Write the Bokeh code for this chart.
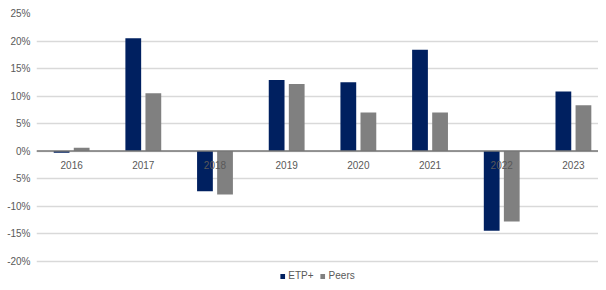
from bokeh.plotting import figure
from bokeh.models import (Range1d, FixedTicker, PrintfTickFormatter, Span,
                          Legend, LegendItem, ColumnDataSource)
from bokeh.core.properties import value
from bokeh.embed import file_html
from bokeh.resources import INLINE

years = ["2016", "2017", "2018", "2019", "2020", "2021", "2022", "2023"]
etp_plus = [-0.3, 20.5, -7.3, 12.9, 12.5, 18.4, -14.5, 10.8]
peers = [0.6, 10.5, -7.9, 12.2, 7.0, 7.0, -12.8, 8.3]
y_ticks = [-20, -15, -10, -5, 0, 5, 10, 15, 20, 25]

FONT = "Liberation Sans"
TXT = "#595959"
NAVY = "#002060"
GREY = "#808080"

idx = list(range(len(years)))
src = ColumnDataSource(dict(
    idx=idx,
    x_etp=[i - 0.14 for i in idx],
    x_peer=[i + 0.14 for i in idx],
    year=years, etp=etp_plus, peers=peers, zero=[0] * len(years),
))

p = figure(width=598, height=282, output_backend="svg", toolbar_location=None,
           x_range=Range1d(-0.49, 7.35), y_range=Range1d(-23.9, 25),
           min_border_left=36, min_border_right=0, min_border_top=13,
           min_border_bottom=0)
p.outline_line_color = None
p.background_fill_color = "white"
p.border_fill_color = "white"
p.xaxis.visible = False
p.xgrid.visible = False

ticker = FixedTicker(ticks=y_ticks)
p.yaxis.ticker = ticker
p.yaxis.formatter = PrintfTickFormatter(format="%d%%")
p.yaxis.axis_line_color = None
p.yaxis.major_tick_line_color = None
p.yaxis.minor_tick_line_color = None
p.yaxis.major_tick_in = 0
p.yaxis.major_tick_out = 0
p.yaxis.major_label_text_font = FONT
p.yaxis.major_label_text_font_size = "10px"
p.yaxis.major_label_text_color = TXT
p.yaxis.major_label_standoff = 6
p.ygrid.ticker = ticker
p.ygrid.grid_line_color = "#d9d9d9"
p.ygrid.grid_line_width = 1.5

r1 = p.vbar(x="x_etp", top="etp", bottom="zero", width=0.22, source=src,
            fill_color=NAVY, line_color=None)
r2 = p.vbar(x="x_peer", top="peers", bottom="zero", width=0.22, source=src,
            fill_color=GREY, line_color=None)

p.add_layout(Span(location=0, dimension="width", line_color="#767676",
                  line_width=1.5))

p.text(x="idx", y="zero", text="year", source=src, text_font=value(FONT),
       text_font_size="10px", text_color=TXT, text_align="center",
       text_baseline="middle", y_offset=14)

legend = Legend(items=[LegendItem(label="ETP+", renderers=[r1]),
                       LegendItem(label="Peers", renderers=[r2])],
                location="bottom_center", orientation="horizontal",
                border_line_color=None, background_fill_alpha=0,
                glyph_width=6, glyph_height=6, label_text_font=FONT,
                label_text_font_size="10px", label_text_color=TXT,
                label_standoff=3, spacing=6, padding=0, margin=1,
                label_height=10)
p.add_layout(legend)

open("out.html", "w").write(file_html(p, INLINE))
